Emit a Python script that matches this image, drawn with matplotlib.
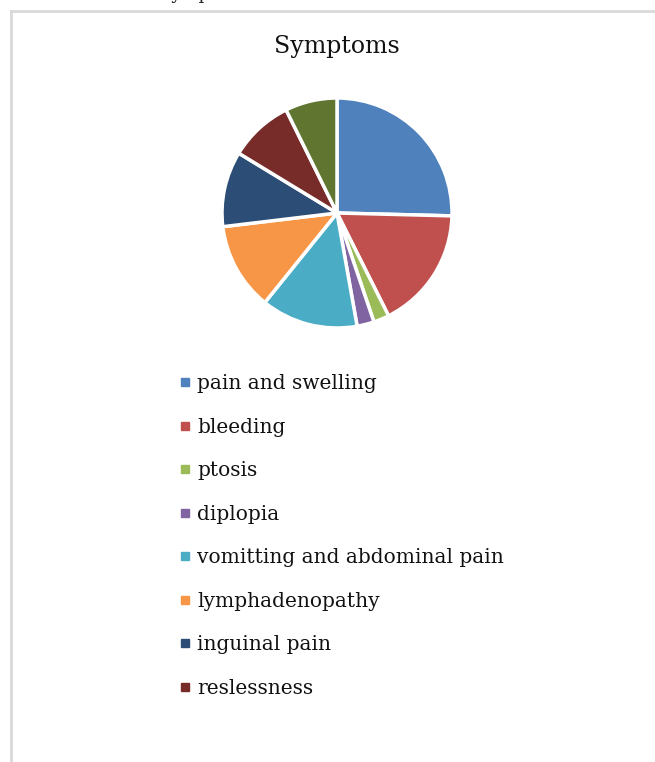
import matplotlib
matplotlib.use('Agg')
import matplotlib.pyplot as plt
from matplotlib.lines import Line2D

# Symptom shares (%)
symptoms = ['pain and swelling', 'bleeding', 'ptosis', 'diplopia',
            'vomitting and abdominal pain', 'lymphadenopathy',
            'inguinal pain', 'reslessness', 'other']
shares = [25.4, 17.2, 2.2, 2.4, 13.6, 12.3, 10.6, 9.0, 7.3]
colors = ['#4F81BD', '#C0504D', '#9BBB59', '#8064A2', '#4BACC6',
          '#F79646', '#2C4D75', '#772C2A', '#5F7530']

W, H = 655, 762
fig = plt.figure(figsize=(W / 100, H / 100), dpi=100)
plt.rcParams['font.family'] = ['DejaVu Serif']

# caption of the page above, cut off by the crop
fig.text(20 / W, 1 + 1 / H, 'Distribution of Symptoms', fontsize=13,
         color='#222222', va='baseline', ha='left')

# frame of the chart area
fig.add_artist(Line2D([11 / W, 11 / W], [0, 1 - 11 / H], transform=fig.transFigure,
                      color='#d9d9d9', lw=2))
fig.add_artist(Line2D([11 / W, 1], [1 - 11 / H, 1 - 11 / H], transform=fig.transFigure,
                      color='#d9d9d9', lw=2))

cx, cy, r = 337, 213, 115
ax = fig.add_axes([(cx - r) / W, (H - cy - r) / H, 2 * r / W, 2 * r / H])
wedges, _ = ax.pie(shares, colors=colors, startangle=90, counterclock=False,
                   wedgeprops=dict(edgecolor='white', linewidth=2.5))
ax.set_xlim(-1, 1)
ax.set_ylim(-1, 1)
ax.set_aspect('equal')

fig.text(cx / W, 1 - 47 / H, 'Symptoms', ha='center', va='center',
         fontsize=17, color='#111111')

# legend (the last slice has no entry in the original)
handles = [Line2D([], [], marker='s', linestyle='', markersize=6,
                  markerfacecolor=c, markeredgecolor=c) for c in colors[:8]]
leg = fig.legend(handles, symptoms[:8], loc='upper left',
                 bbox_to_anchor=(167 / W, 1 - 364 / H), frameon=False,
                 fontsize=14.5, labelspacing=1.22, handletextpad=0.2,
                 handlelength=0.8, borderpad=0)
for t in leg.get_texts():
    t.set_color('#111111')

fig.savefig('out.png', dpi=100)
